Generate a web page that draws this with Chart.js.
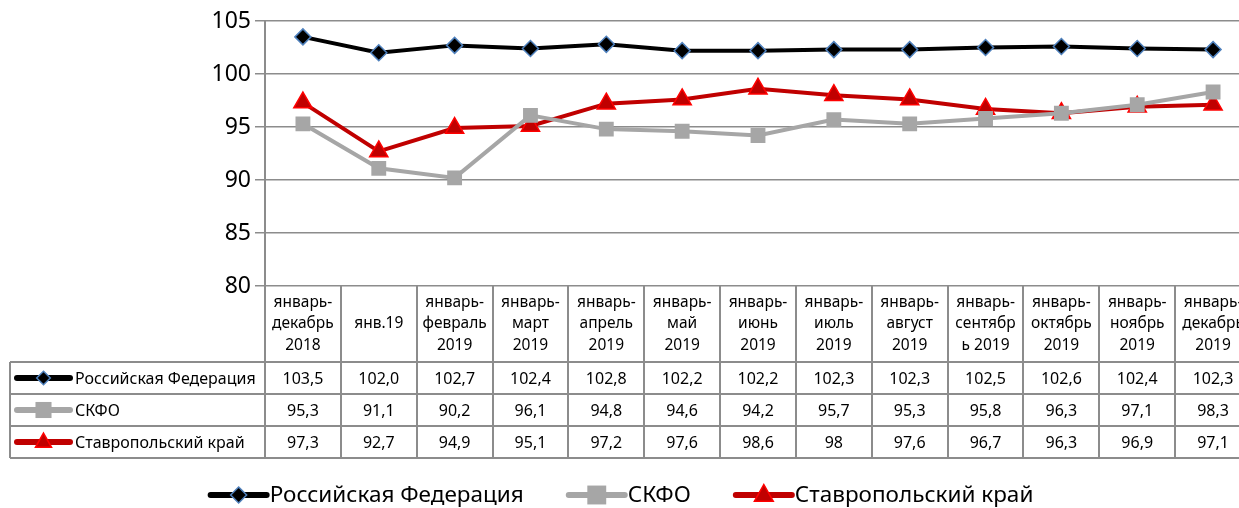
<!DOCTYPE html>
<html>
<head>
<meta charset="utf-8">
<script src="https://cdn.jsdelivr.net/npm/chart.js@4.4.1/dist/chart.umd.min.js"></script>
<style>
  html, body { margin: 0; padding: 0; background: #fff; overflow: hidden; }
</style>
</head>
<body>
<canvas id="chart" width="1252" height="508"></canvas>
<script>
const categories = [
    ["январь-", "декабрь", "2018"], ["янв.19"], ["январь-", "февраль", "2019"],
    ["январь-", "март", "2019"], ["январь-", "апрель", "2019"], ["январь-", "май", "2019"],
    ["январь-", "июнь", "2019"], ["январь-", "июль", "2019"], ["январь-", "август", "2019"],
    ["январь-", "сентябр", "ь 2019"], ["январь-", "октябрь", "2019"], ["январь-", "ноябрь", "2019"],
    ["январь-", "декабрь", "2019"]
];
const seriesNames = ["Российская Федерация", "СКФО", "Ставропольский край"];
const rfValues = [103.5, 102.0, 102.7, 102.4, 102.8, 102.2, 102.2, 102.3, 102.3, 102.5, 102.6, 102.4, 102.3];
const skfoValues = [95.3, 91.1, 90.2, 96.1, 94.8, 94.6, 94.2, 95.7, 95.3, 95.8, 96.3, 97.1, 98.3];
const stavValues = [97.3, 92.7, 94.9, 95.1, 97.2, 97.6, 98.6, 98, 97.6, 96.7, 96.3, 96.9, 97.1];
const yTicks = [80, 85, 90, 95, 100, 105];

const FONT = "'Noto Sans', sans-serif";
const GRID = "#8c8c8c";

// decimals shown in the table per series (null = as is)
const tableDecimals = [1, null, null];

function drawMarker(ctx, ds, x, y) {
    const r = ds.pointRadius;
    ctx.save();
    ctx.fillStyle = ds.pointBackgroundColor;
    ctx.strokeStyle = ds.pointBorderColor;
    ctx.lineWidth = ds.pointBorderWidth;
    ctx.beginPath();
    if (ds.pointStyle === "rectRot") {
        ctx.moveTo(x, y - r); ctx.lineTo(x + r, y); ctx.lineTo(x, y + r); ctx.lineTo(x - r, y);
    } else if (ds.pointStyle === "rect") {
        const s = r * 0.9;
        ctx.rect(x - s, y - s, 2 * s, 2 * s);
    } else {
        ctx.moveTo(x, y - r); ctx.lineTo(x + r * 0.9, y + r * 0.6); ctx.lineTo(x - r * 0.9, y + r * 0.6);
    }
    ctx.closePath();
    ctx.fill();
    if (ds.pointBorderWidth) ctx.stroke();
    ctx.restore();
}

function drawSample(ctx, ds, x1, x2, y, lw, scale) {
    ctx.save();
    ctx.strokeStyle = ds.borderColor;
    ctx.lineWidth = lw;
    ctx.lineCap = "round";
    ctx.beginPath();
    ctx.moveTo(x1, y); ctx.lineTo(x2, y);
    ctx.stroke();
    ctx.restore();
    drawMarker(ctx, Object.assign({}, ds, { pointRadius: ds.pointRadius * scale }), (x1 + x2) / 2, y);
}

const tablePlugin = {
    id: "dataTable",
    afterDraw(chart) {
        const ctx = chart.ctx;
        const xs = chart.scales.x;
        const area = chart.chartArea;
        const colW = xs.getPixelForValue(1) - xs.getPixelForValue(0);
        const top = area.bottom;
        const headH = 76, rowH = 32;
        const tableLeft = 10;
        const right = area.right;

        ctx.save();
        ctx.strokeStyle = GRID;
        ctx.lineWidth = 2;
        // vertical column lines
        for (let i = 0; i <= categories.length; i++) {
            const x = Math.round(area.left + i * colW);
            ctx.beginPath();
            ctx.moveTo(x, top); ctx.lineTo(x, top + headH + 3 * rowH);
            ctx.stroke();
        }
        // horizontal row lines
        for (let r = 0; r <= 3; r++) {
            const y = top + headH + r * rowH;
            ctx.beginPath();
            ctx.moveTo(tableLeft, y); ctx.lineTo(right, y);
            ctx.stroke();
        }
        ctx.beginPath();
        ctx.moveTo(tableLeft, top + headH); ctx.lineTo(tableLeft, top + headH + 3 * rowH);
        ctx.stroke();

        // header labels
        ctx.fillStyle = "#000";
        ctx.textAlign = "center";
        ctx.textBaseline = "middle";
        ctx.font = "15.5px " + FONT;
        const lineH = 21.5;
        categories.forEach((lines, i) => {
            const cx = xs.getPixelForValue(i);
            const y0 = top + headH / 2 - (lines.length - 1) * lineH / 2;
            lines.forEach((t, k) => ctx.fillText(t, cx, y0 + k * lineH));
        });

        // data rows
        chart.data.datasets.forEach((ds, r) => {
            const cy = top + headH + r * rowH + rowH / 2;
            ctx.font = "16px " + FONT;
            ctx.textAlign = "center";
            ctx.fillStyle = "#000";
            ds.data.forEach((v, i) => {
                const txt = (tableDecimals[r] != null ? v.toFixed(tableDecimals[r]) : String(v)).replace(".", ",");
                ctx.fillText(txt, xs.getPixelForValue(i), cy + 1);
            });
            drawSample(ctx, ds, 17, 70, cy, 6, 0.85);
            ctx.textAlign = "left";
            ctx.font = "16px " + FONT;
            ctx.fillText(ds.label, 75, cy + 1);
        });

        // legend below the table
        ctx.font = "22.5px " + FONT;
        ctx.textBaseline = "middle";
        const sampleW = 56, gapIn = 3, gapOut = 45;
        const widths = chart.data.datasets.map(ds => sampleW + gapIn + ctx.measureText(ds.label).width);
        const total = widths.reduce((a, b) => a + b, 0) + gapOut * (widths.length - 1);
        let x = 622 - total / 2;
        const ly = 495;
        chart.data.datasets.forEach((ds, i) => {
            drawSample(ctx, ds, x, x + sampleW, ly, 6, 1);
            ctx.fillStyle = "#000";
            ctx.textAlign = "left";
            ctx.fillText(ds.label, x + sampleW + gapIn, ly + 1);
            x += widths[i] + gapOut;
        });
        ctx.restore();
    }
};

new Chart(document.getElementById("chart"), {
    type: "line",
    data: {
        labels: categories.map(c => c.join(" ")),
        datasets: [
            {
                label: seriesNames[0], data: rfValues,
                borderColor: "#000000", borderWidth: 4,
                pointStyle: "rectRot", pointRadius: 8,
                pointBackgroundColor: "#000000", pointBorderColor: "#4f81bd", pointBorderWidth: 1.5
            },
            {
                label: seriesNames[1], data: skfoValues,
                borderColor: "#a6a6a6", borderWidth: 4,
                pointStyle: "rect", pointRadius: 10.5,
                pointBackgroundColor: "#a6a6a6", pointBorderColor: "#a6a6a6", pointBorderWidth: 0
            },
            {
                label: seriesNames[2], data: stavValues,
                borderColor: "#c00000", borderWidth: 4,
                pointStyle: "triangle", pointRadius: 10.5,
                pointBackgroundColor: "#c00000", pointBorderColor: "#ff0000", pointBorderWidth: 1.5
            }
        ]
    },
    options: {
        responsive: false,
        animation: false,
        layout: { autoPadding: false, padding: { top: 21, right: 1, bottom: 222, left: 0 } },
        plugins: { legend: { display: false }, tooltip: { enabled: false } },
        elements: { line: { tension: 0 } },
        scales: {
            x: {
                display: false,
                offset: true
            },
            y: {
                min: 80, max: 105,
                afterBuildTicks(scale) { scale.ticks = yTicks.map(v => ({ value: v })); },
                afterFit(scale) { scale.width = 265; },
                grid: { color: GRID, lineWidth: 1.5, tickLength: 10 },
                border: { color: GRID, width: 2 },
                ticks: { color: "#000", font: { family: FONT, size: 23 }, padding: 4 }
            }
        }
    },
    plugins: [tablePlugin]
});
</script>
</body>
</html>
